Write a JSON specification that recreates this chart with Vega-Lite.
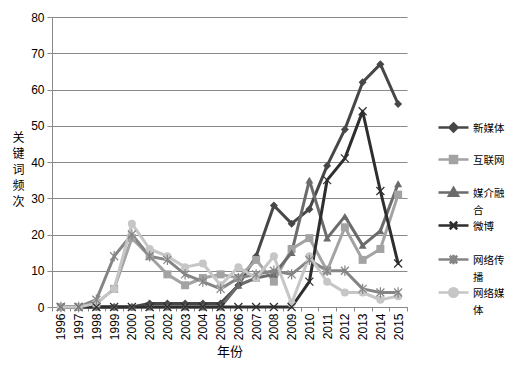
{
  "$schema": "https://vega.github.io/schema/vega-lite/v6.json",
  "width": 355,
  "height": 290,
  "autosize": "none",
  "padding": {"left": 52, "top": 17, "right": 110, "bottom": 58},
  "background": "white",
  "config": {"view": {"stroke": null}, "font": "Liberation Sans"},
  "data": {"values": [
    {"year":"1996","series":"新媒体","value":0},{"year":"1997","series":"新媒体","value":0},{"year":"1998","series":"新媒体","value":0},{"year":"1999","series":"新媒体","value":0},{"year":"2000","series":"新媒体","value":0},{"year":"2001","series":"新媒体","value":1},{"year":"2002","series":"新媒体","value":1},{"year":"2003","series":"新媒体","value":1},{"year":"2004","series":"新媒体","value":1},{"year":"2005","series":"新媒体","value":1},{"year":"2006","series":"新媒体","value":6},{"year":"2007","series":"新媒体","value":14},{"year":"2008","series":"新媒体","value":28},{"year":"2009","series":"新媒体","value":23},{"year":"2010","series":"新媒体","value":27},{"year":"2011","series":"新媒体","value":39},{"year":"2012","series":"新媒体","value":49},{"year":"2013","series":"新媒体","value":62},{"year":"2014","series":"新媒体","value":67},{"year":"2015","series":"新媒体","value":56},
    {"year":"1996","series":"互联网","value":0},{"year":"1997","series":"互联网","value":0},{"year":"1998","series":"互联网","value":1},{"year":"1999","series":"互联网","value":5},{"year":"2000","series":"互联网","value":19},{"year":"2001","series":"互联网","value":14},{"year":"2002","series":"互联网","value":9},{"year":"2003","series":"互联网","value":6},{"year":"2004","series":"互联网","value":8},{"year":"2005","series":"互联网","value":9},{"year":"2006","series":"互联网","value":8},{"year":"2007","series":"互联网","value":13},{"year":"2008","series":"互联网","value":7},{"year":"2009","series":"互联网","value":16},{"year":"2010","series":"互联网","value":19},{"year":"2011","series":"互联网","value":10},{"year":"2012","series":"互联网","value":22},{"year":"2013","series":"互联网","value":13},{"year":"2014","series":"互联网","value":16},{"year":"2015","series":"互联网","value":31},
    {"year":"1996","series":"媒介融合","value":0},{"year":"1997","series":"媒介融合","value":0},{"year":"1998","series":"媒介融合","value":0},{"year":"1999","series":"媒介融合","value":0},{"year":"2000","series":"媒介融合","value":0},{"year":"2001","series":"媒介融合","value":0},{"year":"2002","series":"媒介融合","value":0},{"year":"2003","series":"媒介融合","value":0},{"year":"2004","series":"媒介融合","value":0},{"year":"2005","series":"媒介融合","value":0},{"year":"2006","series":"媒介融合","value":6},{"year":"2007","series":"媒介融合","value":8},{"year":"2008","series":"媒介融合","value":9},{"year":"2009","series":"媒介融合","value":15},{"year":"2010","series":"媒介融合","value":35},{"year":"2011","series":"媒介融合","value":19},{"year":"2012","series":"媒介融合","value":25},{"year":"2013","series":"媒介融合","value":17},{"year":"2014","series":"媒介融合","value":21},{"year":"2015","series":"媒介融合","value":34},
    {"year":"1996","series":"微博","value":0},{"year":"1997","series":"微博","value":0},{"year":"1998","series":"微博","value":0},{"year":"1999","series":"微博","value":0},{"year":"2000","series":"微博","value":0},{"year":"2001","series":"微博","value":0},{"year":"2002","series":"微博","value":0},{"year":"2003","series":"微博","value":0},{"year":"2004","series":"微博","value":0},{"year":"2005","series":"微博","value":0},{"year":"2006","series":"微博","value":0},{"year":"2007","series":"微博","value":0},{"year":"2008","series":"微博","value":0},{"year":"2009","series":"微博","value":0},{"year":"2010","series":"微博","value":7},{"year":"2011","series":"微博","value":35},{"year":"2012","series":"微博","value":41},{"year":"2013","series":"微博","value":54},{"year":"2014","series":"微博","value":32},{"year":"2015","series":"微博","value":12},
    {"year":"1996","series":"网络传播","value":0},{"year":"1997","series":"网络传播","value":0},{"year":"1998","series":"网络传播","value":2},{"year":"1999","series":"网络传播","value":14},{"year":"2000","series":"网络传播","value":20},{"year":"2001","series":"网络传播","value":14},{"year":"2002","series":"网络传播","value":13},{"year":"2003","series":"网络传播","value":9},{"year":"2004","series":"网络传播","value":7},{"year":"2005","series":"网络传播","value":5},{"year":"2006","series":"网络传播","value":8},{"year":"2007","series":"网络传播","value":9},{"year":"2008","series":"网络传播","value":10},{"year":"2009","series":"网络传播","value":9},{"year":"2010","series":"网络传播","value":13},{"year":"2011","series":"网络传播","value":10},{"year":"2012","series":"网络传播","value":10},{"year":"2013","series":"网络传播","value":5},{"year":"2014","series":"网络传播","value":4},{"year":"2015","series":"网络传播","value":4},
    {"year":"1996","series":"网络媒体","value":0},{"year":"1997","series":"网络媒体","value":0},{"year":"1998","series":"网络媒体","value":1},{"year":"1999","series":"网络媒体","value":5},{"year":"2000","series":"网络媒体","value":23},{"year":"2001","series":"网络媒体","value":16},{"year":"2002","series":"网络媒体","value":14},{"year":"2003","series":"网络媒体","value":11},{"year":"2004","series":"网络媒体","value":12},{"year":"2005","series":"网络媒体","value":6},{"year":"2006","series":"网络媒体","value":11},{"year":"2007","series":"网络媒体","value":8},{"year":"2008","series":"网络媒体","value":14},{"year":"2009","series":"网络媒体","value":1},{"year":"2010","series":"网络媒体","value":14},{"year":"2011","series":"网络媒体","value":7},{"year":"2012","series":"网络媒体","value":4},{"year":"2013","series":"网络媒体","value":4},{"year":"2014","series":"网络媒体","value":2},{"year":"2015","series":"网络媒体","value":3}
  ]},
  "encoding": {
    "x": {
      "field": "year", "type": "ordinal",
      "scale": {"type": "band", "paddingInner": 0, "paddingOuter": 0},
      "axis": {
        "title": "年份", "titleFont": "Noto Sans CJK SC", "titleFontSize": 13, "titleFontWeight": "normal", "titleColor": "#000", "titlePadding": 6,
        "labelAngle": -90, "labelFontSize": 12, "labelColor": "#000", "labelPadding": 2,
        "tickSize": 4, "tickBand": "extent", "tickColor": "#8a8a8a", "domainColor": "#8a8a8a", "grid": false
      }
    },
    "y": {
      "field": "value", "type": "quantitative",
      "scale": {"domain": [0, 80], "nice": false},
      "axis": {
        "title": ["关", "键", "词", "频", "次"], "titleAngle": 0, "titleAlign": "center", "titleBaseline": "top",
        "titleX": -34, "titleY": 115, "titleLineHeight": 16,
        "titleFont": "Noto Sans CJK SC", "titleFontSize": 12, "titleFontWeight": "normal", "titleColor": "#000",
        "values": [0, 10, 20, 30, 40, 50, 60, 70, 80],
        "labelFontSize": 12, "labelColor": "#000", "labelPadding": 3, "tickSize": 5,
        "tickColor": "#8a8a8a", "domainColor": "#8a8a8a", "gridColor": "#8a8a8a", "gridWidth": 1
      }
    }
  },
  "layer": [
    {
      "mark": {"type": "line", "strokeWidth": 3, "strokeJoin": "round", "strokeCap": "round"},
      "encoding": {
        "color": {"field": "series", "type": "nominal",
          "scale": {"domain": ["新媒体", "互联网", "媒介融合", "微博", "网络传播", "网络媒体"], "range": ["#474747", "#a3a3a3", "#6b6b6b", "#2e2e2e", "#858585", "#c6c6c6"]},
          "legend": null}
      }
    },
    {
      "transform": [{"filter": {"field": "series", "oneOf": ["新媒体", "互联网", "媒介融合", "网络媒体"]}}],
      "mark": {"type": "point", "filled": true, "opacity": 1, "size": 64},
      "encoding": {
        "color": {"field": "series", "type": "nominal",
          "scale": {"domain": ["新媒体", "互联网", "媒介融合", "微博", "网络传播", "网络媒体"], "range": ["#474747", "#a3a3a3", "#6b6b6b", "#2e2e2e", "#858585", "#c6c6c6"]},
          "legend": null},
        "shape": {"field": "series", "type": "nominal",
          "scale": {"domain": ["新媒体", "互联网", "媒介融合", "微博", "网络传播", "网络媒体"], "range": ["diamond", "square", "triangle-up", "M-1,-1L1,1M-1,1L1,-1", "M-1,-1L1,1M-1,1L1,-1M0,-1.3V1.3", "circle"]},
          "legend": null}
      }
    },
    {
      "transform": [{"filter": {"field": "series", "oneOf": ["微博", "网络传播"]}}],
      "mark": {"type": "point", "filled": false, "opacity": 1, "size": 64, "strokeWidth": 1.2},
      "encoding": {
        "color": {"field": "series", "type": "nominal",
          "scale": {"domain": ["新媒体", "互联网", "媒介融合", "微博", "网络传播", "网络媒体"], "range": ["#474747", "#a3a3a3", "#6b6b6b", "#2e2e2e", "#858585", "#c6c6c6"]},
          "legend": null},
        "shape": {"field": "series", "type": "nominal",
          "scale": {"domain": ["新媒体", "互联网", "媒介融合", "微博", "网络传播", "网络媒体"], "range": ["diamond", "square", "triangle-up", "M-1,-1L1,1M-1,1L1,-1", "M-1,-1L1,1M-1,1L1,-1M0,-1.3V1.3", "circle"]},
          "legend": null}
      }
    },
    {
      "mark": {"type": "point", "filled": true, "opacity": 0},
      "encoding": {
        "fill": {"field": "series", "type": "nominal",
          "scale": {"domain": ["新媒体", "互联网", "媒介融合", "微博", "网络传播", "网络媒体"], "range": ["#474747", "#a3a3a3", "#6b6b6b", "#2e2e2e", "#858585", "#c6c6c6"]},
          "legend": {"title": null, "orient": "none", "legendX": 395, "legendY": 104, "padding": 0, "rowPadding": 0,
            "symbolSize": 100, "symbolStrokeWidth": 2.5, "symbolOpacity": 1,
            "labelFont": "Noto Sans CJK SC", "labelFontSize": 10.5, "labelColor": "#000", "labelBaseline": "top", "labelOffset": 13,
            "labelExpr": "datum.label == '媒介融合' ? ['媒介融', '合'] : datum.label == '网络传播' ? ['网络传', '播'] : datum.label == '网络媒体' ? ['网络媒', '体'] : [datum.label, '']",
            "encode": {"labels": {"update": {"lineHeight": {"value": 17}, "dy": {"value": -4}}}}}},
        "stroke": {"field": "series", "type": "nominal",
          "scale": {"domain": ["新媒体", "互联网", "媒介融合", "微博", "网络传播", "网络媒体"], "range": ["#474747", "#a3a3a3", "#6b6b6b", "#2e2e2e", "#858585", "#c6c6c6"]},
          "legend": {"title": null, "orient": "none", "legendX": 395, "legendY": 104, "padding": 0, "rowPadding": 0,
            "symbolSize": 100, "symbolStrokeWidth": 2.5, "symbolOpacity": 1,
            "labelFont": "Noto Sans CJK SC", "labelFontSize": 10.5, "labelColor": "#000", "labelBaseline": "top", "labelOffset": 13,
            "labelExpr": "datum.label == '媒介融合' ? ['媒介融', '合'] : datum.label == '网络传播' ? ['网络传', '播'] : datum.label == '网络媒体' ? ['网络媒', '体'] : [datum.label, '']",
            "encode": {"labels": {"update": {"lineHeight": {"value": 17}, "dy": {"value": -4}}}}}},
        "shape": {"field": "series", "type": "nominal",
          "scale": {"domain": ["新媒体", "互联网", "媒介融合", "微博", "网络传播", "网络媒体"], "range": [
            "M-3,0H3M0,-0.8L0.8,0L0,0.8L-0.8,0Z",
            "M-3,0H3M-0.7,-0.7H0.7V0.7H-0.7Z",
            "M-3,0H3M0,-0.9L0.9,0.65L-0.9,0.65Z",
            "M-3,0H3M-0.75,-0.75L0.75,0.75M-0.75,0.75L0.75,-0.75",
            "M-3,0H3M-0.75,-0.75L0.75,0.75M-0.75,0.75L0.75,-0.75M0,-0.95V0.95",
            "M-3,0H3M-0.85,0A0.85,0.85 0 1,0 0.85,0A0.85,0.85 0 1,0 -0.85,0Z"]},
          "legend": {"title": null, "orient": "none", "legendX": 395, "legendY": 104, "padding": 0, "rowPadding": 0,
            "symbolSize": 100, "symbolStrokeWidth": 2.5, "symbolOpacity": 1,
            "labelFont": "Noto Sans CJK SC", "labelFontSize": 10.5, "labelColor": "#000", "labelBaseline": "top", "labelOffset": 13,
            "labelExpr": "datum.label == '媒介融合' ? ['媒介融', '合'] : datum.label == '网络传播' ? ['网络传', '播'] : datum.label == '网络媒体' ? ['网络媒', '体'] : [datum.label, '']",
            "encode": {"labels": {"update": {"lineHeight": {"value": 17}, "dy": {"value": -4}}}}}}
      }
    }
  ],
  "resolve": {"scale": {"shape": "independent", "fill": "independent", "stroke": "independent"}}
}
